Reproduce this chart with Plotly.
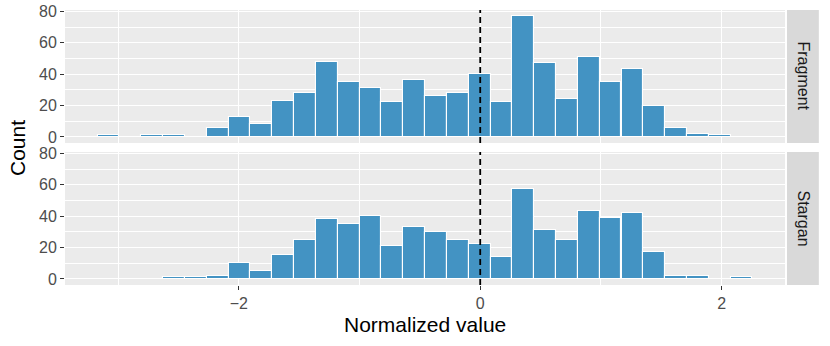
import plotly.graph_objs as go
from plotly.subplots import make_subplots

# bin centres (30 bins, width ~0.181) shared by both facets
bin_centers = [-3.079, -2.898, -2.717, -2.537, -2.356, -2.175, -1.994, -1.813,
               -1.633, -1.452, -1.271, -1.090, -0.909, -0.729, -0.548, -0.367,
               -0.186, -0.005, 0.176, 0.357, 0.537, 0.718, 0.899, 1.080,
               1.261, 1.441, 1.622, 1.803, 1.984, 2.165]
bin_width = 0.1808

fragment_counts = [1, 0, 1, 1, 0, 6, 13, 8, 23, 28, 48, 35, 31, 22, 36,
                   26, 28, 40, 22, 77, 47, 24, 51, 35, 43, 20, 6, 2, 1, 0]
stargan_counts = [0, 0, 0, 1, 1, 2, 10, 5, 15, 25, 38, 35, 40, 21, 33,
                  30, 25, 22, 14, 57, 31, 25, 43, 39, 42, 17, 2, 2, 0, 1]

facet_labels = ['Fragment', 'Stargan']

FONT = 'Liberation Sans, Arial, Helvetica, sans-serif'
BAR_COLOR = '#4393C3'
PANEL_BG = '#EBEBEB'
STRIP_BG = '#D9D9D9'

'''
    Build a ggplot-like faceted histogram: one panel per facet,
    strips on the right, shared x and y scales.
'''


def make_figure():
    fig = make_subplots(rows=2, cols=1, shared_xaxes=True,
                        vertical_spacing=9 / 275)

    for row, counts in enumerate([fragment_counts, stargan_counts], start=1):
        fig.add_trace(go.Bar(x=bin_centers, y=counts, width=bin_width,
                             marker=dict(color=BAR_COLOR,
                                         line=dict(color='white', width=1.1)),
                             showlegend=False, hoverinfo='x+y'), row, 1)
        # dashed reference line at zero
        fig.add_shape(type='line', x0=0, x1=0, y0=0, y1=1,
                      xref='x' if row == 1 else 'x2',
                      yref='y domain' if row == 1 else 'y2 domain',
                      line=dict(color='black', width=1.8, dash='6px,4px'))

    axis_common = dict(showline=False, zeroline=False, ticks='outside',
                       ticklen=4, tickwidth=1, tickcolor='#333333',
                       gridcolor='white', gridwidth=1.3, automargin=False,
                       tickfont=dict(family=FONT, size=16, color='#4D4D4D'))

    for i in (1, 2):
        xa = 'xaxis' if i == 1 else 'xaxis2'
        ya = 'yaxis' if i == 1 else 'yaxis2'
        fig['layout'][xa].update(range=[-3.44, 2.525], tickvals=[-2, 0, 2],
                                 minor=dict(tickvals=[-3, -1, 1],
                                            showgrid=True, gridcolor='white',
                                            gridwidth=0.6, ticks=''),
                                 showticklabels=(i == 2), **axis_common)
        fig['layout'][ya].update(range=[-3.85, 80.85], tickvals=[0, 20, 40, 60, 80],
                                 minor=dict(tickvals=[10, 30, 50, 70],
                                            showgrid=True, gridcolor='white',
                                            gridwidth=0.6, ticks=''),
                                 **axis_common)
    fig['layout']['xaxis'].update(ticks='')

    # facet strips on the right
    for i, label in enumerate(facet_labels):
        dom = fig['layout']['yaxis' if i == 0 else 'yaxis2']['domain']
        fig.add_shape(type='rect', xref='paper', yref='paper',
                      x0=1.0028, x1=1.047, y0=dom[0], y1=dom[1],
                      fillcolor=STRIP_BG, line=dict(width=0), layer='below')
        fig.add_annotation(text=label, xref='paper', yref='paper',
                           x=1.025, y=(dom[0] + dom[1]) / 2, showarrow=False,
                           textangle=90, xanchor='center', yanchor='middle',
                           font=dict(family=FONT, size=16, color='#1A1A1A'))

    fig.add_annotation(text='Count', xref='paper', yref='paper', x=-0.066, y=0.5,
                       xanchor='center', yanchor='middle',
                       showarrow=False, textangle=-90,
                       font=dict(family=FONT, size=21, color='black'))
    fig.add_annotation(text='Normalized value', xref='paper', yref='paper',
                       x=0.5, y=-0.142, xanchor='center', yanchor='middle',
                       showarrow=False,
                       font=dict(family=FONT, size=21, color='black'))

    fig.update_layout(width=830, height=346,
                      margin=dict(l=65, r=45, t=10, b=61),
                      plot_bgcolor=PANEL_BG, paper_bgcolor='white',
                      bargap=0, font=dict(family=FONT))
    return fig


if __name__ == "__main__":
    fig = make_figure()
    # drop the default page margin so the figure sits at the window origin
    fig.write_html("out.html", config={'displayModeBar': False},
                   post_script="document.body.style.margin='0';")
